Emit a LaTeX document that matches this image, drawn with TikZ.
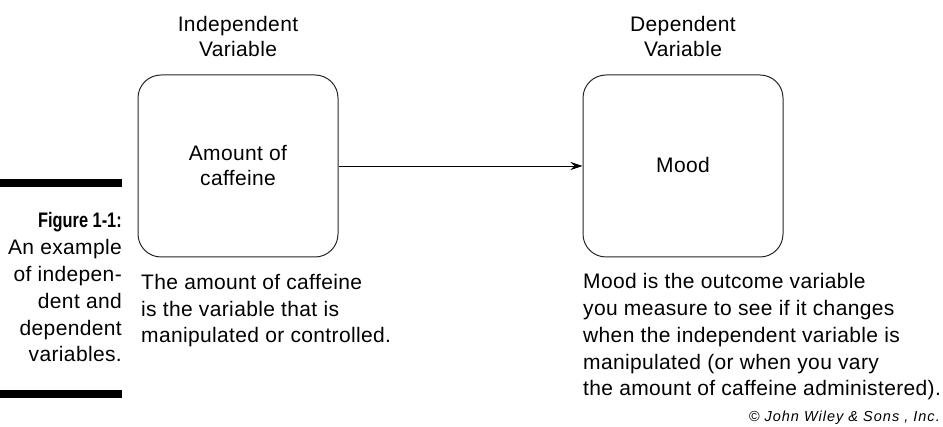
\documentclass[tikz,border=0pt]{standalone}
\usepackage{fontspec}
\setmainfont[LetterSpace=1.7]{Liberation Sans}
\newfontfamily\capbold[FakeStretch=0.78]{Liberation Sans}
\newfontfamily\copyfont[LetterSpace=7]{Liberation Sans}
\usetikzlibrary{arrows.meta}
\begin{document}
\begin{tikzpicture}[x=1pt,y=-1pt,
  varbox/.style={draw=black!85, line width=1pt, rounded corners=23pt, minimum width=200pt, minimum height=182pt, inner sep=0pt},
  txt/.style={inner sep=0pt, font=\fontsize{21}{26.8}\selectfont},
  headtxt/.style={inner sep=0pt, font=\fontsize{21}{25}\selectfont},
  bar/.style={fill=black, draw=none},
  link/.style={draw=black, line width=0.9pt, -{Stealth[length=12pt,width=8pt,inset=4pt]}}
]
\useasboundingbox (0,0) rectangle (943,427);
% header labels
\node[headtxt, align=center, anchor=base] (ivh) at (238,57) {Independent\\Variable};
\node[headtxt, align=center, anchor=base] (dvh) at (683,57) {Dependent\\Variable};
% boxes
\node[varbox] (iv) at (238,166) {};
\node[varbox] (dv) at (683,166) {};
\node[headtxt, align=center, anchor=base] (ivt) at (238,186) {Amount of\\caffeine};
\node[headtxt, anchor=base] (dvt) at (683,173) {Mood};
% arrow
\draw[link] (iv.east) -- (dv.west);
% descriptions
\node[txt, align=left, anchor=base west] (ivd) at (141,343) {The amount of caffeine\\is the variable that is\\manipulated or controlled.};
\node[txt, align=left, anchor=base west] (dvd) at (583,396) {Mood is the outcome variable\\you measure to see if it changes\\when the independent variable is\\manipulated (or when you vary\\the amount of caffeine administered).};
% caption
\fill[bar] (0,179) rectangle (122,187);
\fill[bar] (0,390) rectangle (122,398);
\node[txt, align=right, anchor=base east] (cap) at (122,362) {{\capbold\bfseries Figure 1-1:}\\An example\\of indepen-\\dent and\\dependent\\variables.};
% copyright
\node[inner sep=0pt, anchor=base east, font=\fontsize{14.5}{16}\selectfont\copyfont\itshape] (copy) at (940,422) {© John Wiley \& Sons , Inc.};
\end{tikzpicture}
\end{document}
